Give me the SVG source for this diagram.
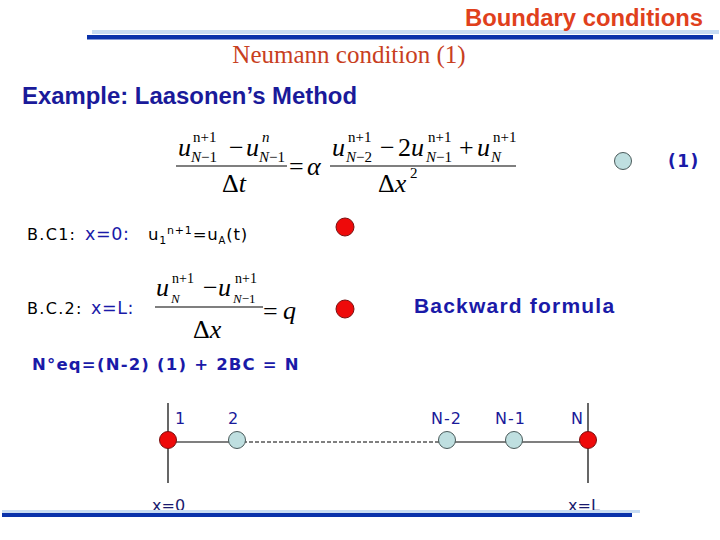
<svg xmlns="http://www.w3.org/2000/svg" width="720" height="540" viewBox="0 0 720 540">
<defs>
<style>
.title{font-family:"Liberation Sans",Arial,sans-serif;font-weight:bold;fill:#e0401c}
.sub{font-family:"Liberation Serif","Times New Roman",serif;fill:#c8401e}
.ex{font-family:"Liberation Sans",Arial,sans-serif;font-weight:bold;fill:#1a1a9a}
.bw{font-family:"Liberation Sans",Arial,sans-serif;font-weight:bold;fill:#1a1aa8}
.m{font-family:"Liberation Serif","Times New Roman",serif;fill:#000}
.mi{font-family:"Liberation Serif","Times New Roman",serif;font-style:italic;fill:#000}
.v{font-family:"DejaVu Sans",Verdana,sans-serif;fill:#000}
.vb{font-family:"DejaVu Sans",Verdana,sans-serif;fill:#1a1aa8}
.lbl{font-family:"DejaVu Sans",Verdana,sans-serif;fill:#1a1a9a;font-size:16px;letter-spacing:1px}
.ax{font-family:"DejaVu Sans",Verdana,sans-serif;fill:#1a1a6e;font-size:16px}
.red{fill:#ee0a0a;stroke:#7a1010;stroke-width:1}
.lb{fill:#bfdfe0;stroke:#4a5a5a;stroke-width:1}
.ln{stroke:#000;stroke-width:1.2;fill:none}
</style>
</defs>
<g id="header">
<rect x="92" y="30" width="627" height="4" fill="#c8dcf2"/>
<rect x="87" y="35" width="626" height="4.5" fill="#0a32aa"/>
<text class="title" x="703" y="26" font-size="23.8" text-anchor="end">Boundary conditions</text>
<text class="sub" x="349" y="63" font-size="25" text-anchor="middle">Neumann condition (1)</text>
<text class="ex" x="22" y="104" font-size="23.9">Example: Laasonen’s Method</text>
</g>
<g id="equation1">
<text class="mi" x="178" y="156" font-size="26">u</text>
<text class="m" x="193" y="142" font-size="15">n+1</text>
<text class="mi" x="191" y="162" font-size="15">N<tspan class="m" font-style="normal">−1</tspan></text>
<text class="m" x="229" y="156" font-size="26">−</text>
<text class="mi" x="246" y="156" font-size="26">u</text>
<text class="mi" x="262" y="142" font-size="15">n</text>
<text class="mi" x="259" y="162" font-size="15">N<tspan class="m" font-style="normal">−1</tspan></text>
<line class="ln" x1="176" y1="166" x2="287" y2="166"/>
<text class="m" x="222" y="192" font-size="26">Δ<tspan class="mi">t</tspan></text>
<text class="m" x="289" y="175" font-size="26">=</text>
<text class="mi" x="307" y="175" font-size="26">α</text>
<text class="mi" x="332" y="156" font-size="26">u</text>
<text class="m" x="348" y="142" font-size="15">n+1</text>
<text class="mi" x="346" y="162" font-size="15">N<tspan class="m" font-style="normal">−2</tspan></text>
<text class="m" x="380" y="156" font-size="26">−</text>
<text class="m" x="398" y="156" font-size="26">2<tspan class="mi">u</tspan></text>
<text class="m" x="428" y="142" font-size="15">n+1</text>
<text class="mi" x="426" y="162" font-size="15">N<tspan class="m" font-style="normal">−1</tspan></text>
<text class="m" x="459" y="156" font-size="26">+</text>
<text class="mi" x="477" y="156" font-size="26">u</text>
<text class="m" x="493" y="142" font-size="15">n+1</text>
<text class="mi" x="491" y="162" font-size="15">N</text>
<line class="ln" x1="330" y1="166" x2="516" y2="166"/>
<text class="m" x="378" y="192" font-size="26">Δ<tspan class="mi">x</tspan></text>
<text class="m" x="410" y="178" font-size="15">2</text>
</g>
<g id="eq-marker">
<circle class="lb" cx="623" cy="161" r="8.5"/>
<text class="vb" x="668" y="167" font-size="17" font-weight="bold" letter-spacing="1.5">(1)</text>
</g>
<g id="bc1">
<text class="v" x="27" y="240" font-size="16" letter-spacing="1.3">B.C1:</text>
<text class="vb" x="85" y="240" font-size="17.5" letter-spacing="0.6">x=0:</text>
<text class="v" x="148" y="240" font-size="16.5" letter-spacing="0.8">u<tspan font-size="11" dy="4">1</tspan><tspan font-size="11" dy="-10">n+1</tspan><tspan dy="6">=u</tspan><tspan font-size="10" dy="4">A</tspan><tspan dy="-4">(t)</tspan></text>
<circle class="red" cx="345" cy="227" r="9"/>
</g>
<g id="bc2">
<text class="v" x="27" y="314" font-size="16" letter-spacing="1.3">B.C.2:</text>
<text class="vb" x="91" y="314" font-size="17.5" letter-spacing="0.6">x=L:</text>
<text class="mi" x="156" y="296" font-size="26">u</text>
<text class="m" x="172" y="283" font-size="14">n+1</text>
<text class="mi" x="171" y="303" font-size="13">N</text>
<text class="m" x="203" y="296" font-size="26">−</text>
<text class="mi" x="218" y="296" font-size="26">u</text>
<text class="m" x="235" y="283" font-size="14">n+1</text>
<text class="mi" x="233" y="303" font-size="13">N<tspan class="m" font-style="normal">−1</tspan></text>
<line class="ln" x1="155" y1="307" x2="263" y2="307"/>
<text class="m" x="193" y="338" font-size="26">Δ<tspan class="mi">x</tspan></text>
<text class="m" x="263" y="320" font-size="26">=</text>
<text class="mi" x="283" y="319" font-size="26">q</text>
<circle class="red" cx="345" cy="309" r="9"/>
<text class="bw" x="414" y="313" font-size="21" letter-spacing="1.2">Backward formula</text>
</g>
<g id="count">
<text class="vb" x="32" y="370" font-size="16.5" font-weight="bold" letter-spacing="1.2">N°eq=(N-2) (1) + 2BC = N</text>
</g>
<g id="connectors">
<line class="ln" x1="168" y1="403" x2="168" y2="483"/>
<line class="ln" x1="588" y1="403" x2="588" y2="483"/>
<line class="ln" x1="168" y1="442" x2="237" y2="442"/>
<line x1="237" y1="442" x2="447" y2="442" stroke="#000" stroke-width="1" stroke-dasharray="4,2"/>
<line class="ln" x1="447" y1="442" x2="588" y2="442"/>
</g>
<g id="node-1"><circle class="red" cx="168" cy="440" r="8.5"/><text class="lbl" x="175" y="424">1</text></g>
<g id="node-2"><circle class="lb" cx="237" cy="440" r="8.5"/><text class="lbl" x="228" y="424">2</text></g>
<g id="node-N-2"><circle class="lb" cx="447" cy="440" r="8.5"/><text class="lbl" x="431" y="424">N-2</text></g>
<g id="node-N-1"><circle class="lb" cx="514" cy="440" r="8.5"/><text class="lbl" x="495" y="424">N-1</text></g>
<g id="node-N"><circle class="red" cx="588" cy="440" r="8.5"/><text class="lbl" x="571" y="424">N</text></g>
<g id="axis-labels">
<text class="ax" x="152" y="511">x=0</text>
<text class="ax" x="568" y="511">x=L</text>
</g>
<g id="footer">
<rect x="2" y="510" width="638" height="3" fill="#c8dcf2"/>
<rect x="2" y="513" width="630" height="4" fill="#0a32aa"/>
</g>
</svg>
